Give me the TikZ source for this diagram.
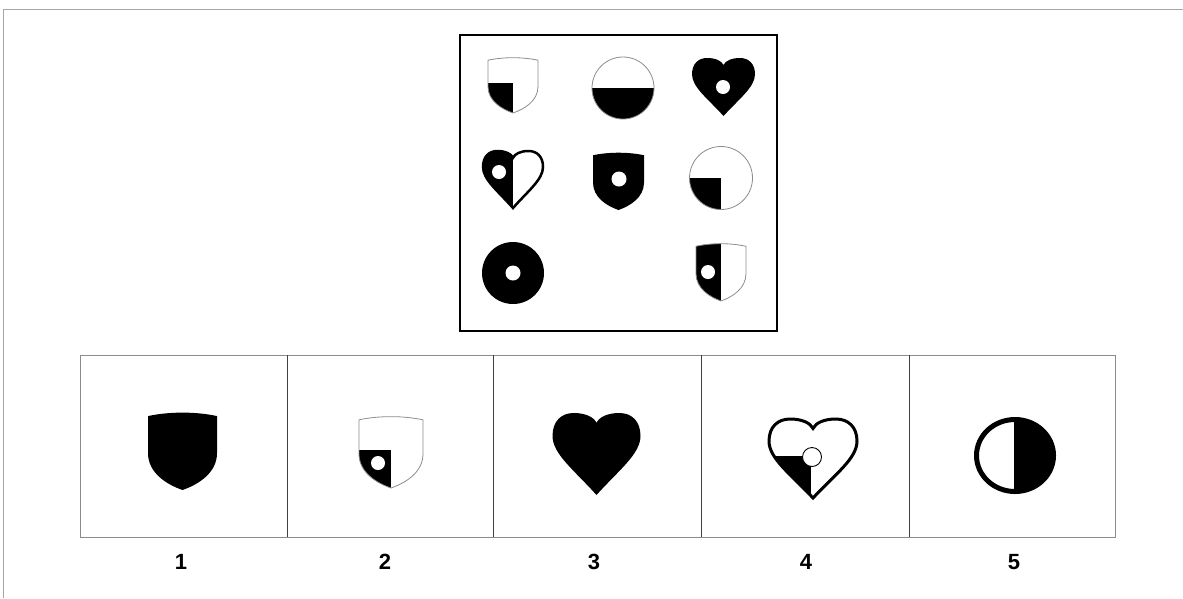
\documentclass[tikz,border=0pt]{standalone}
\usepackage{fontspec}
\setmainfont{Liberation Sans}

% unit shapes: x from -1 to 1, y from 0 (top) to 1 (tip), y pointing down
\newcommand\shieldpath{(-1,0.04) .. controls (-0.4,-0.02) and (0.4,-0.02) .. (1,0.04) -- (1,0.52) .. controls (1,0.78) and (0.45,0.93) .. (0,1) .. controls (-0.45,0.93) and (-1,0.78) .. (-1,0.52) -- cycle}
\newcommand\heartpath{(0,1) .. controls (-0.5,0.7) and (-1,0.5) .. (-1,0.28) .. controls (-1,0.1) and (-0.8,0) .. (-0.52,0) .. controls (-0.25,0) and (-0.06,0.05) .. (0,0.12) .. controls (0.06,0.05) and (0.25,0) .. (0.52,0) .. controls (0.8,0) and (1,0.1) .. (1,0.28) .. controls (1,0.5) and (0.5,0.7) .. (0,1) -- cycle}

\begin{document}
\begin{tikzpicture}[x=1pt,y=-1pt,
  outerframe/.style={draw=black!35,line width=0.9pt},
  thinline/.style={draw=black!45,line width=0.8pt},
  thickline/.style={draw=black,line width=2.5pt},
  hole/.style={fill=white},
  optbox/.style={draw=black!45,line width=0.8pt},
  optsep/.style={draw=black!75,line width=0.9pt},
  optlabel/.style={font=\bfseries\fontsize{22}{26}\selectfont}
]
  \useasboundingbox (0,0) rectangle (1183,598);
  \draw[outerframe] (3,598) -- (3,9) -- (1183,9);

  % the 3x3 matrix
  \draw[line width=2pt] (460,35) rectangle (777,331);

  % row 1
  \begin{scope}[shift={(513,58)},xscale=25,yscale=55]
    \begin{scope} \clip \shieldpath; \fill (-1.1,0.45) rectangle (0,1.1); \end{scope}
    \draw[thinline] \shieldpath;
  \end{scope}
  \begin{scope}
    \clip (623,88) circle[radius=31];
    \fill (580,88) rectangle (660,125);
  \end{scope}
  \draw[thinline] (623,88) circle[radius=31];
  \begin{scope}[shift={(723.5,58)},xscale=31.5,yscale=58]
    \fill \heartpath;
  \end{scope}
  \fill[hole] (723,87) circle[radius=7];

  % row 2
  \begin{scope}[shift={(513,151)},xscale=30,yscale=57]
    \begin{scope} \clip \heartpath; \fill (-1.1,-0.1) rectangle (0,1.1); \end{scope}
    \draw[thickline] \heartpath;
  \end{scope}
  \fill[hole] (499,172) circle[radius=7];
  \begin{scope}[shift={(618.5,153)},xscale=25.5,yscale=57]
    \fill \shieldpath;
  \end{scope}
  \fill[hole] (619,179) circle[radius=7.5];
  \begin{scope}
    \clip (721,178) circle[radius=31.5];
    \fill (680,178) rectangle (721,215);
  \end{scope}
  \draw[thinline] (721,178) circle[radius=31.5];

  % row 3
  \fill (513,273) circle[radius=31];
  \fill[hole] (513,273) circle[radius=7.5];
  \begin{scope}[shift={(721,244)},xscale=25,yscale=57]
    \begin{scope} \clip \shieldpath; \fill (-1.1,-0.1) rectangle (0,1.1); \end{scope}
    \draw[thinline] \shieldpath;
  \end{scope}
  \fill[hole] (708,272) circle[radius=7];

  % answer options
  \draw[optbox] (80,355) rectangle (1115,537);
  \foreach \x in {287,493,701,909}
    \draw[optsep] (\x,355) -- (\x,537);

  % 1
  \begin{scope}[shift={(182.5,413)},xscale=34.5,yscale=77]
    \fill \shieldpath;
  \end{scope}
  % 2
  \begin{scope}[shift={(391,417)},xscale=32,yscale=71]
    \begin{scope} \clip \shieldpath; \fill (-1.1,0.465) rectangle (0,1.1); \end{scope}
    \draw[thinline] \shieldpath;
  \end{scope}
  \fill[hole] (378,463) circle[radius=7];
  % 3
  \begin{scope}[shift={(596.5,413)},xscale=44,yscale=82]
    \fill \heartpath;
  \end{scope}
  % 4
  \begin{scope}[shift={(813,419)},xscale=44,yscale=79]
    \begin{scope} \clip \heartpath; \fill (-1.1,0.47) rectangle (-0.04,1.1); \end{scope}
    \draw[draw=black,line width=3pt] \heartpath;
  \end{scope}
  \filldraw[fill=white,draw=black,line width=0.9pt] (812,457) circle[radius=9.5];
  % 5
  \begin{scope}
    \clip (1015,455.5) ellipse[x radius=40,y radius=37.5];
    \fill (1014,410) rectangle (1065,500);
  \end{scope}
  \draw[line width=5pt] (1015,455.5) ellipse[x radius=38.5,y radius=36];

  \foreach \i/\x in {1/181,2/385,3/594,4/806,5/1014}
    \node[optlabel] (lab\i) at (\x,562) {\i};
\end{tikzpicture}
\end{document}
